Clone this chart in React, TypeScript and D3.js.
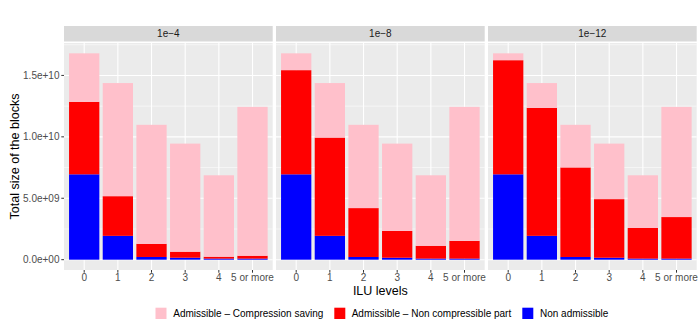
import React from 'react';
import * as d3 from 'd3';

// ILU levels on the x axis
const levels = ['0', '1', '2', '3', '4', '5 or more'];
const panels = ['1e\u22124', '1e\u22128', '1e\u221212'];

// values in units of 1e9
const nonAdmissible = [6.95, 1.94, 0.22, 0.16, 0.09, 0.09];
const nonCompressible4 = [5.9, 3.23, 1.07, 0.49, 0.15, 0.23];
const saving4 = [3.95, 9.21, 9.69, 8.8, 6.63, 12.12];
const nonCompressible8 = [8.48, 8.0, 3.98, 2.18, 1.04, 1.44];
const saving8 = [1.37, 4.44, 6.78, 7.11, 5.74, 10.91];
const nonCompressible12 = [9.29, 10.42, 7.29, 4.77, 2.49, 3.38];
const saving12 = [0.56, 2.02, 3.47, 4.52, 4.29, 8.97];

const yTicks = [0, 5e9, 1e10, 1.5e10];
const yTickLabels = ['0.0e+00', '5.0e+09', '1.0e+10', '1.5e+10'];
const yMinor = [2.5e9, 7.5e9, 1.25e10, 1.75e10];

const seriesKeys = ['nonAdmissible', 'nonCompressible', 'saving'];
const seriesLabels = ['Admissible \u2013 Compression saving', 'Admissible \u2013 Non compressible part', 'Non admissible'];
const colors: Record<string, string> = { nonAdmissible: '#0000FF', nonCompressible: '#FF0000', saving: '#FFC0CB' };

const panelData = [
  { label: panels[0], nc: nonCompressible4, sv: saving4 },
  { label: panels[1], nc: nonCompressible8, sv: saving8 },
  { label: panels[2], nc: nonCompressible12, sv: saving12 },
];

const font = '"Liberation Sans", Arial, sans-serif';

export default function App() {
  const W = 698, H = 324;
  const panelLeft = 64, panelW = 208.7, gap = 3.3;
  const stripTop = 26, stripH = 15.5, panelTop = 43, panelBottom = 270;
  const small = 10, big = 12.5;

  const y = d3.scaleLinear().domain([-0.84e9, 17.64e9]).range([panelBottom, panelTop]);

  const stack = d3.stack<any>().keys(seriesKeys);

  return (
    <svg width={W} height={H} style={{ position: 'absolute', left: 0, top: 0, fontFamily: font }}>
      <rect width={W} height={H} fill="#fff" />
      {panelData.map((p, pi) => {
        const x0 = panelLeft + pi * (panelW + gap);
        const x = d3.scaleBand().domain(levels).range([x0, x0 + panelW]).paddingInner(0.1).paddingOuter(0.15);
        const rows = levels.map((l, i) => ({ level: l, nonAdmissible: nonAdmissible[i] * 1e9, nonCompressible: p.nc[i] * 1e9, saving: p.sv[i] * 1e9 }));
        const layers = stack(rows);
        return (
          <g key={p.label}>
            <rect x={x0} y={stripTop} width={panelW} height={stripH} fill="#D9D9D9" />
            <text x={x0 + panelW / 2} y={stripTop + stripH / 2} dy="0.35em" textAnchor="middle" fontSize={small} fill="#1A1A1A">{p.label}</text>
            <rect x={x0} y={panelTop} width={panelW} height={panelBottom - panelTop} fill="#EBEBEB" />
            {yMinor.map(t => (
              <line key={'mn' + t} x1={x0} x2={x0 + panelW} y1={y(t)} y2={y(t)} stroke="#fff" strokeWidth={0.55} />
            ))}
            {yTicks.map(t => (
              <line key={'mj' + t} x1={x0} x2={x0 + panelW} y1={y(t)} y2={y(t)} stroke="#fff" strokeWidth={1.1} />
            ))}
            {levels.map(l => {
              const cx = (x(l) as number) + x.bandwidth() / 2;
              return (
                <g key={'x' + l}>
                  <line x1={cx} x2={cx} y1={panelTop} y2={panelBottom} stroke="#fff" strokeWidth={1.1} />
                  <line x1={cx} x2={cx} y1={panelBottom} y2={panelBottom + 2.7} stroke="#333" strokeWidth={1} />
                  <text x={cx} y={panelBottom + 11.3} textAnchor="middle" fontSize={small} fill="#4D4D4D">{l}</text>
                </g>
              );
            })}
            {layers.map(layer => (
              <g key={layer.key} fill={colors[layer.key]}>
                {layer.map((d, i) => (
                  <rect key={i} x={x(levels[i])} width={x.bandwidth()} y={y(d[1])} height={Math.max(0, y(d[0]) - y(d[1]))} />
                ))}
              </g>
            ))}
          </g>
        );
      })}
      {yTicks.map((t, i) => (
        <g key={'yt' + t}>
          <line x1={panelLeft - 2.7} x2={panelLeft} y1={y(t)} y2={y(t)} stroke="#333" strokeWidth={1} />
          <text x={panelLeft - 4.5} y={y(t)} dy="0.35em" textAnchor="end" fontSize={small} fill="#4D4D4D">{yTickLabels[i]}</text>
        </g>
      ))}
      <text transform={`translate(19,${(panelTop + panelBottom) / 2}) rotate(-90)`} textAnchor="middle" fontSize={big} fill="#000">Total size of the blocks</text>
      <text x={panelLeft + (3 * panelW + 2 * gap) / 2} y={295} textAnchor="middle" fontSize={big} fill="#000">ILU levels</text>
      {[
        { key: 'saving', x: 155.5, tx: 173.3 },
        { key: 'nonCompressible', x: 334.3, tx: 351.7 },
        { key: 'nonAdmissible', x: 522.3, tx: 540 },
      ].map((g, i) => (
        <g key={g.key}>
          <rect x={g.x} y={307.7} width={11} height={11.3} fill={colors[g.key]} />
          <text x={g.tx} y={313.4} dy="0.35em" fontSize={small} fill="#000">{seriesLabels[i]}</text>
        </g>
      ))}
    </svg>
  );
}
